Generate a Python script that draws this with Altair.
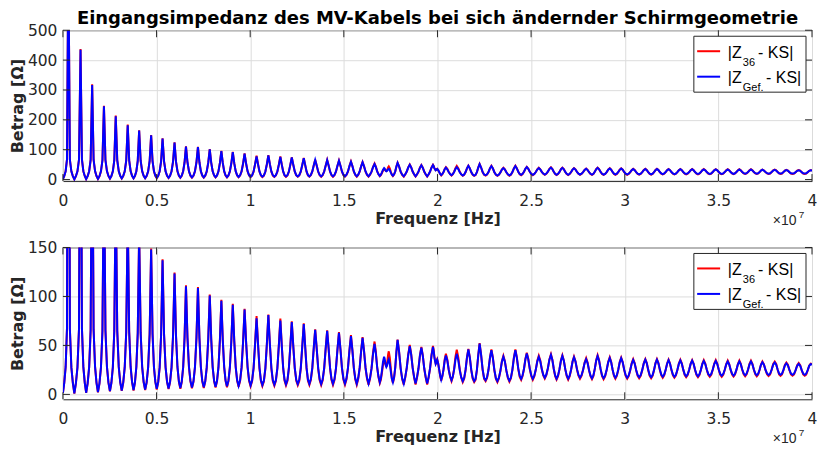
import altair as alt
import pandas as pd

# ---------------- data ----------------
# frequency in units of 1e7 Hz, |Z| in Ohm
peak_f = [0.029, 0.094, 0.156, 0.219, 0.282, 0.346, 0.407, 0.471, 0.532, 0.596,
          0.657, 0.721, 0.784, 0.846, 0.907, 0.970, 1.034, 1.097, 1.161, 1.222,
          1.286, 1.347, 1.411, 1.474, 1.538, 1.600, 1.664, 1.715, 1.740, 1.787,
          1.852, 1.914, 1.976, 1.9985, 2.045, 2.103, 2.165, 2.225, 2.288, 2.352,
          2.416, 2.477, 2.541, 2.606, 2.667, 2.729, 2.794, 2.855, 2.920, 2.981,
          3.045, 3.110, 3.172, 3.234, 3.297, 3.360, 3.422, 3.486, 3.550, 3.612,
          3.674, 3.735, 3.801, 3.863, 3.929, 3.993]
peak_blue = [760, 435, 317, 245, 212, 182, 164, 148, 137, 123.5,
             110.5, 108.5, 101, 95.5, 91.5, 86.5, 77.8, 81, 75.5, 73.8,
             71.9, 65.9, 64.9, 62.8, 59.5, 57.8, 51.5, 38.5, 35.8, 55.6,
             49.3, 47.7, 48.5, 35.5, 39.8, 41.4, 45.9, 51.8, 45.1, 38.5,
             45.1, 41.7, 38.3, 40.2, 39.2, 37.9, 35.9, 39.1, 37.1, 36.9,
             35.1, 35.4, 35.4, 34.9, 34.6, 34.5, 34.1, 34.1, 33.6, 33.6,
             33.6, 32.9, 32.5, 31.6, 31.1, 31.0]
peak_red = [765, 437, 319, 247, 214, 184, 165, 149, 138, 124.5,
            111.5, 109.5, 102, 96.5, 92.5, 87.5, 80.0, 81.5, 77.5, 74.5,
            72.5, 66.5, 65.5, 63.5, 60.5, 58.5, 54.0, 35.0, 44.0, 56.0,
            50.5, 48.5, 49.5, 36.0, 41.5, 45.7, 46.5, 52.3, 46.0, 39.5,
            46.0, 42.5, 39.5, 41.0, 40.0, 38.5, 37.0, 40.0, 38.0, 37.5,
            36.0, 36.0, 36.0, 35.5, 35.5, 35.0, 35.0, 35.0, 34.5, 34.5,
            34.5, 33.5, 33.5, 32.5, 32.0, 31.5]
trough_f = [0.0, 0.061, 0.124, 0.187, 0.251, 0.314, 0.377, 0.439, 0.501, 0.564,
            0.627, 0.689, 0.752, 0.815, 0.876, 0.938, 1.002, 1.065, 1.129, 1.191,
            1.254, 1.316, 1.379, 1.442, 1.506, 1.569, 1.632, 1.692, 1.727, 1.762,
            1.820, 1.883, 1.945, 1.9905, 2.020, 2.075, 2.135, 2.196, 2.257, 2.320,
            2.384, 2.447, 2.509, 2.573, 2.636, 2.698, 2.761, 2.825, 2.887, 2.950,
            3.013, 3.077, 3.141, 3.203, 3.265, 3.328, 3.391, 3.454, 3.518, 3.581,
            3.643, 3.705, 3.768, 3.832, 3.896, 3.961, 4.0]
trough_blue = [1.5, 1.0, 1.7, 2.3, 3.3, 4.0, 4.5, 5.0, 5.6, 6.0,
               6.5, 7.0, 7.4, 7.8, 8.2, 8.8, 9.2, 9.6, 10.0, 10.3,
               10.6, 10.8, 10.6, 10.8, 11.0, 11.0, 11.0, 12.5, 28.0, 12.5,
               11.0, 11.0, 11.0, 31.0, 15.0, 14.5, 13.5, 13.5, 14.5, 13.5,
               14.0, 15.9, 15.9, 17.0, 16.0, 16.0, 17.0, 16.5, 16.5, 17.0,
               17.0, 17.5, 17.5, 18.0, 18.0, 18.5, 18.5, 19.0, 19.0, 19.2,
               19.5, 19.5, 19.8, 20.0, 20.0, 20.0, 30.5]
trough_red = [1.5, 0.8, 1.5, 2.0, 3.0, 3.6, 4.0, 4.5, 5.0, 5.4,
              5.8, 6.2, 6.6, 7.0, 7.3, 7.8, 8.2, 8.5, 8.8, 9.1,
              9.4, 9.6, 9.4, 9.6, 9.8, 9.8, 9.8, 11.5, 29.0, 11.5,
              10.0, 10.0, 10.0, 31.5, 14.0, 13.5, 12.5, 12.5, 13.5, 12.5,
              13.0, 14.8, 14.8, 16.0, 15.0, 15.0, 16.0, 15.5, 15.5, 16.0,
              16.0, 16.5, 16.5, 17.0, 17.0, 17.5, 17.5, 18.0, 18.0, 18.2,
              18.5, 18.5, 18.8, 19.0, 19.0, 19.0, 31.0]
# flank levels at 1/4, 1/2 and 3/4 of the way trough -> peak (fraction of the swing)
frac_low = [0.014, 0.024, 0.031, 0.037, 0.041, 0.046, 0.049, 0.052, 0.054, 0.059,
            0.065, 0.063, 0.067, 0.070, 0.070, 0.072, 0.072, 0.062, 0.069, 0.069,
            0.069, 0.087, 0.090, 0.094, 0.107, 0.120, 0.146, 0.15, 0.15, 0.116,
            0.18, 0.18, 0.18, 0.20, 0.159, 0.14, 0.10, 0.06, 0.10, 0.14,
            0.10, 0.14, 0.14, 0.14, 0.14, 0.14, 0.14, 0.13, 0.13, 0.13,
            0.13, 0.13, 0.13, 0.13, 0.125, 0.125, 0.125, 0.125, 0.125, 0.125,
            0.125, 0.12, 0.10, 0.10, 0.10, 0.10]
frac_mid = [0.035, 0.061, 0.083, 0.104, 0.117, 0.134, 0.147, 0.159, 0.169, 0.186,
            0.205, 0.206, 0.218, 0.229, 0.235, 0.245, 0.257, 0.242, 0.258, 0.262,
            0.266, 0.295, 0.300, 0.310, 0.330, 0.342, 0.384, 0.45, 0.45, 0.35,
            0.42, 0.42, 0.42, 0.50, 0.426, 0.40, 0.355, 0.30, 0.355, 0.42,
            0.355, 0.40, 0.42, 0.42, 0.42, 0.42, 0.42, 0.42, 0.42, 0.42,
            0.42, 0.42, 0.42, 0.42, 0.42, 0.42, 0.42, 0.42, 0.42, 0.42,
            0.42, 0.42, 0.43, 0.43, 0.43, 0.43]
frac_up = [0.087, 0.151, 0.203, 0.256, 0.293, 0.334, 0.365, 0.395, 0.421, 0.457,
           0.493, 0.500, 0.525, 0.544, 0.557, 0.575, 0.608, 0.586, 0.607, 0.614,
           0.626, 0.658, 0.664, 0.676, 0.700, 0.705, 0.750, 0.80, 0.80, 0.72,
           0.765, 0.77, 0.77, 0.80, 0.795, 0.77, 0.74, 0.69, 0.74, 0.79,
           0.74, 0.77, 0.79, 0.79, 0.79, 0.79, 0.79, 0.79, 0.79, 0.79,
           0.79, 0.79, 0.79, 0.79, 0.79, 0.79, 0.79, 0.79, 0.79, 0.79,
           0.79, 0.80, 0.83, 0.83, 0.83, 0.83]

x_ticks = [0, 0.5, 1, 1.5, 2, 2.5, 3, 3.5, 4]
y_ticks_top = [0, 100, 200, 300, 400, 500]
y_ticks_bottom = [0, 50, 100, 150]
title_text = "Eingangsimpedanz des MV-Kabels bei sich ändernder Schirmgeometrie"
x_title = "Frequenz [Hz]"
y_title = "Betrag [Ω]"
legend_entries = [("|Z", "36", "- KS|", "#ff0000"), ("|Z", "Gef.", "- KS|", "#0000ff")]


def build(pv, tv):
    f = [trough_f[0]]
    z = [tv[0]]
    for i, fp in enumerate(peak_f):
        f0, v0 = trough_f[i], tv[i]
        f1, v1 = trough_f[i + 1], tv[i + 1]
        vp = pv[i]
        g = (frac_low[i], frac_mid[i], frac_up[i])
        for s, gg in zip((0.25, 0.5, 0.75), g):
            f.append(f0 + s * (fp - f0)); z.append(v0 + gg * (vp - v0))
        f.append(fp); z.append(vp)
        for s, gg in zip((0.75, 0.5, 0.25), g[::-1]):
            f.append(f1 + s * (fp - f1)); z.append(v1 + gg * (vp - v1))
        f.append(f1); z.append(v1)
    return pd.DataFrame({"f": f, "z": z})


df_blue = build(peak_blue, trough_blue)
df_red = build(peak_red, trough_red)
one = pd.DataFrame({"a": [0]})

W = 750
AX = "#262626"
TICK = 7


def make_x():
    return alt.X("f:Q", scale=alt.Scale(domain=[0, 4], nice=False, zero=False),
                 axis=alt.Axis(values=x_ticks, format="~g", title=x_title, grid=True,
                               ticks=False, domain=False, labelFlush=False, labelOverlap=False,
                               labelFont="DejaVu Sans", labelFontSize=15.5, labelColor=AX,
                               labelPadding=12, titleFont="DejaVu Sans", titleFontWeight="bold",
                               titleFontSize=16, titleColor=AX, titlePadding=2,
                               gridColor="#dcdcdc", gridWidth=1))


def make_y(ymax, yticks):
    return alt.Y("z:Q", scale=alt.Scale(domain=[-5, ymax], nice=False, zero=False),
                 axis=alt.Axis(values=yticks, format="d", title=y_title, grid=True,
                               ticks=False, domain=False, labelOverlap=False,
                               labelFont="DejaVu Sans", labelFontSize=15.5, labelColor=AX,
                               labelPadding=6, titleFont="DejaVu Sans", titleFontWeight="bold",
                               titleFontSize=16, titleColor=AX, titlePadding=2,
                               gridColor="#dcdcdc", gridWidth=1))


def txt(s, x, y, size, font="Liberation Sans", color="#000000"):
    return alt.Chart(one).mark_text(text=s, font=font, fontSize=size, color=color,
                                    align="left", baseline="alphabetic").encode(
        x=alt.value(x), y=alt.value(y))


def panel(ymax, yticks, H):
    X = make_x()
    Y = make_y(ymax, yticks)
    red = alt.Chart(df_red).mark_line(color="#ff0000", strokeWidth=2, clip=True).encode(x=X, y=Y)
    blue = alt.Chart(df_blue).mark_line(color="#0000ff", strokeWidth=2, clip=True).encode(x=X, y=Y)
    xt = pd.DataFrame({"f": x_ticks})
    yt = pd.DataFrame({"z": yticks})
    tb = alt.Chart(xt).mark_rule(color=AX, strokeWidth=1).encode(x=X, y=alt.value(H), y2=alt.value(H - TICK))
    tt = alt.Chart(xt).mark_rule(color=AX, strokeWidth=1).encode(x=X, y=alt.value(0), y2=alt.value(TICK))
    tl = alt.Chart(yt).mark_rule(color=AX, strokeWidth=1).encode(y=Y, x=alt.value(0), x2=alt.value(TICK))
    tr = alt.Chart(yt).mark_rule(color=AX, strokeWidth=1).encode(y=Y, x=alt.value(W - TICK), x2=alt.value(W))
    layers = [red, blue, tb, tt, tl, tr]
    # legend (positions relative to the right edge of the plot)
    layers.append(alt.Chart(one).mark_rect(fill="white", stroke=AX, strokeWidth=1).encode(
        x=alt.value(W - 118.3), x2=alt.value(W - 6), y=alt.value(6), y2=alt.value(62)))
    for k, (a, sub, b, col) in enumerate(legend_entries):
        yl = 21 + 25.5 * k
        layers.append(alt.Chart(one).mark_rule(color=col, strokeWidth=2).encode(
            x=alt.value(W - 115), x2=alt.value(W - 92), y=alt.value(yl)))
        layers.append(txt(a, W - 84.3, yl + 6.3, 16))
        layers.append(txt(sub, W - 69.3, yl + 14.5, 11))
        layers.append(txt(b, W - (54 if k == 0 else 46), yl + 6.3, 16))
    # x10^7 multiplier
    layers.append(txt("×10", W - 39.3, H + 44, 14, color=AX))
    layers.append(txt("7", W - 13.3, H + 37, 10, color=AX))
    return alt.layer(*layers).properties(width=W, height=H)


top = panel(500, y_ticks_top, 151).properties(
    title=alt.TitleParams(title_text, font="DejaVu Sans", fontSize=18, fontWeight="bold",
                          anchor="middle", offset=-4.5, color="#000000"))
bottom = panel(150, y_ticks_bottom, 152)

chart = alt.vconcat(top, bottom, spacing=66.5, bounds="flush").configure_view(
    stroke=AX, strokeWidth=1).properties(padding={"left": 0, "top": 1, "right": 0, "bottom": 0})

chart.save("out.html", embed_options={"renderer": "svg", "actions": False})
